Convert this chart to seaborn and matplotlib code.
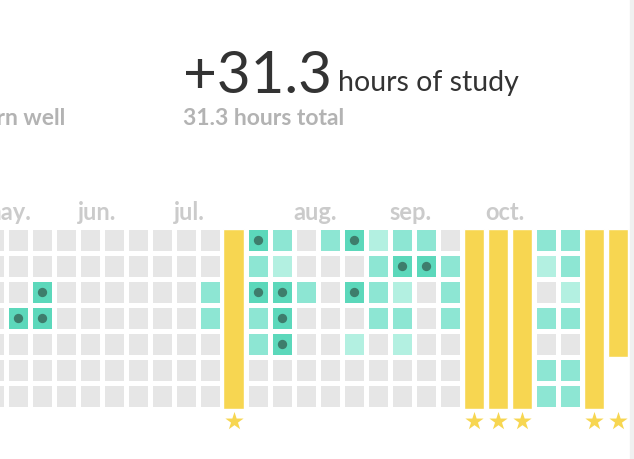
import numpy as np
import matplotlib
matplotlib.use("Agg")
import matplotlib.pyplot as plt
from matplotlib.colors import ListedColormap
from matplotlib.patches import Rectangle
import seaborn as sns

# --- data -------------------------------------------------------------
# study level per day (rows = weekday, cols = week); 0 none, 1 light, 2 medium, 3 strong
weeks = list(range(27))
day_levels = [
    [0, 0, 0, 0, 0, 0, 0, 0, 0, 0, 0, 3, 2, 0, 2, 3, 1, 2, 2, 0, 0, 0, 0, 2, 2, 0, 0],
    [0, 0, 0, 0, 0, 0, 0, 0, 0, 0, 0, 2, 1, 0, 0, 0, 2, 3, 3, 2, 0, 0, 0, 1, 2, 0, 0],
    [0, 0, 3, 0, 0, 0, 0, 0, 0, 2, 0, 3, 3, 2, 0, 3, 2, 1, 0, 2, 0, 0, 0, 0, 1, 0, 0],
    [0, 3, 3, 0, 0, 0, 0, 0, 0, 2, 0, 2, 3, 0, 0, 0, 2, 2, 0, 2, 0, 0, 0, 2, 2, 0, 0],
    [0, 0, 0, 0, 0, 0, 0, 0, 0, 0, 0, 2, 3, 0, 0, 1, 0, 1, 0, 0, 0, 0, 0, 0, 0, 0, 0],
    [0, 0, 0, 0, 0, 0, 0, 0, 0, 0, 0, 0, 0, 0, 0, 0, 0, 0, 0, 0, 0, 0, 0, 2, 2, 0, 0],
    [0, 0, 0, 0, 0, 0, 0, 0, 0, 0, 0, 0, 0, 0, 0, 0, 0, 0, 0, 0, 0, 0, 0, 2, 2, 0, 0],
]
# weeks with a goal reached (drawn as yellow bars + star) and their day count
star_weeks = [10, 20, 21, 22, 25, 26]
star_days = [7, 7, 7, 7, 7, 5]

month_labels = ["may.", "jun.", "jul.", "aug.", "sep.", "oct."]
month_start_week = [0, 4, 8, 13, 17, 21]

total_hours = 31.3

# --- colours ----------------------------------------------------------
cell_colors = ["#e6e6e6", "#b3f0e1", "#8de6d3", "#5cd8bb"]
dot_color = "#3e7d6c"
yellow = "#f7d651"

sns.set_theme(style="white")
plt.rcParams["font.family"] = ["Lato", "DejaVu Sans"]

W, H = 634, 460
fig = plt.figure(figsize=(W / 100, H / 100), dpi=100)
fig.patch.set_facecolor("white")

# axes placed so one week = 24 px, one day = 26 px
ax = fig.add_axes([-18.5 / W, (H - 410) / H, 648 / W, 182 / H])

grid = np.array(day_levels, dtype=float)
mask = np.zeros_like(grid, dtype=bool)
mask[:, star_weeks] = True

sns.heatmap(grid, mask=mask, cmap=ListedColormap(cell_colors), vmin=-0.5, vmax=3.5,
            cbar=False, linewidths=3.3, linecolor="white",
            xticklabels=False, yticklabels=False, ax=ax)

# strong days get a dot
rows, cols = np.where(grid == 3)
ax.scatter(cols + 0.5, rows + 0.5, s=45, color=dot_color, zorder=3, linewidths=0)

# goal weeks: full yellow bars
inset = 2 / 26
ax.bar(np.array(star_weeks) + 0.5, np.array(star_days) - inset, bottom=inset,
       width=20 / 24, color=yellow, zorder=2)
ax.scatter(np.array(star_weeks) + 0.5, [7.46] * len(star_weeks), marker="*", s=190,
           color=yellow, linewidths=0, clip_on=False, zorder=3)

for lab, wk in zip(month_labels, month_start_week):
    ax.text(wk, -0.31, lab, ha="left", va="baseline", fontsize=17,
            fontweight="bold", color="#cbcbcb", clip_on=False)

ax.set_xlim(0, len(weeks))
ax.set_ylim(7, 0)
ax.axis("off")

# header
fig.text(183 / W, 1 - 93 / H, f"+{total_hours}", fontsize=42, color="#333333",
         ha="left", va="baseline")
fig.text(338 / W, 1 - 91 / H, "hours of study", fontsize=20.5, color="#333333",
         ha="left", va="baseline")
fig.text(183 / W, 1 - 125 / H, f"{total_hours} hours total", fontsize=16.5,
         color="#b3b3b3", ha="left", va="baseline", fontweight="bold")
fig.text(65 / W, 1 - 125 / H, "learn well", fontsize=16.5, color="#b3b3b3",
         ha="right", va="baseline", fontweight="bold")

# light strip at the right edge
fig.patches.append(Rectangle((630 / W, 0), 4 / W, 1, transform=fig.transFigure,
                             color="#f0f0f0", zorder=0))

fig.savefig("out.png", dpi=100)
